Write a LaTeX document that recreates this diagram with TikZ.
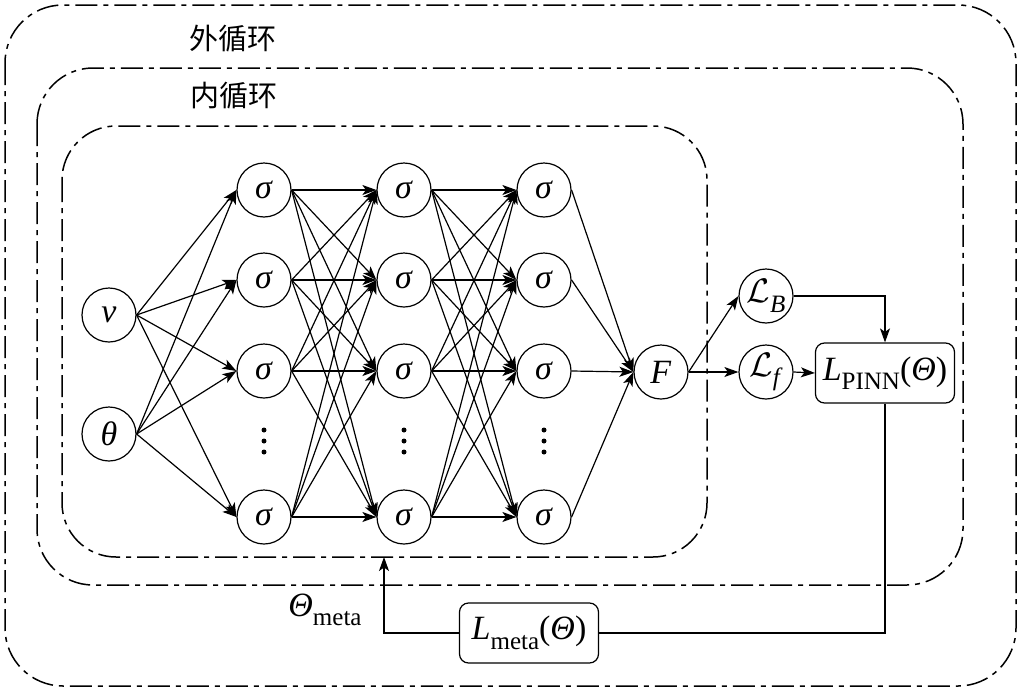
\RequirePackage{fix-cm}
\documentclass[tikz,border=0pt]{standalone}
\usepackage{fontspec}
\setmainfont{Liberation Serif}
\newfontfamily\cjk{Noto Sans CJK SC}
\usetikzlibrary{arrows.meta}
\newcommand\mysub[1]{\raisebox{-0.28em}{\fontsize{25}{25}\selectfont #1}}
\tikzset{
  neuron/.style={circle,draw,line width=1.2pt,minimum size=54pt,inner sep=0pt,font=\fontsize{34}{40}\selectfont},
  conn/.style={line width=1.2pt,-{Stealth[length=14pt,width=10pt,inset=3.5pt]}},
  loopbox/.style={line width=1.5pt,dash pattern=on 22pt off 6pt on 5pt off 6pt},
  lossbox/.style={draw,line width=1.2pt,rounded corners=9pt,minimum width=139pt,minimum height=60pt,inner sep=1pt,font=\fontsize{34}{40}\selectfont},
  title/.style={font=\cjk\fontsize{29}{32}\selectfont},
  lbl/.style={font=\fontsize{34}{40}\selectfont,inner sep=0pt},
  vdot/.style={fill,circle,inner sep=0pt,minimum size=5pt},
}
\begin{document}
\begin{tikzpicture}[x=1pt,y=-1pt]
\useasboundingbox (0,0) rectangle (1021,691);
% loops
\draw[loopbox,rounded corners=58pt] (5,5) rectangle (1016,686);
\draw[loopbox,rounded corners=56pt] (37,68) rectangle (963,585);
\draw[loopbox,rounded corners=54pt] (62,126) rectangle (707,557);
\node[title] (outer) at (233,39) {外循环};
\node[title] (inner) at (234,96) {内循环};
% inputs
\node[neuron] (v) at (109,315) {\textit{ν}};
\node[neuron] (t) at (109,434) {\textit{θ}};
% layers
\foreach \c/\x in {a/264,b/404,c/544}{
  \node[neuron] (\c1) at (\x,190) {\textit{σ}};
  \node[neuron] (\c2) at (\x,280) {\textit{σ}};
  \node[neuron] (\c3) at (\x,371) {\textit{σ}};
  \node[neuron] (\c4) at (\x,517) {\textit{σ}};
  \node[vdot] (\c d1) at (\x,430) {};
  \node[vdot] (\c d2) at (\x,441) {};
  \node[vdot] (\c d3) at (\x,452) {};
}
\node[neuron] (F) at (661,372) {\textit{F}};
\node[neuron] (LB) at (766,296) {$\mathcal{L}$\mysub{\textit{B}}};
\node[neuron] (Lf) at (766,372) {$\mathcal{L}$\mysub{\textit{f}}};
\node[lossbox] (Lp) at (885,373) {\textit{L}\mysub{PINN}(\textit{Θ})};
\node[lossbox] (Lm) at (529,633) {\textit{L}\mysub{meta}(\textit{Θ})};
\node[lbl] (tm) at (325,610) {\textit{Θ}\mysub{meta}};
\coordinate (mt) at (384,557);
% connections
\foreach \s in {v,t}{\foreach \k in {1,...,4}{\draw[conn] (\s.east) -- (a\k.west);}}
\foreach \i in {1,...,4}{\foreach \j in {1,...,4}{
  \draw[conn] (a\i.east) -- (b\j.west);
  \draw[conn] (b\i.east) -- (c\j.west);}}
\foreach \i in {1,...,4}{\draw[conn] (c\i.east) -- (F.west);}
\draw[conn] (F.east) -- (LB.west);
\draw[conn] (F.east) -- (Lf.west);
\draw[conn] (Lf.east) -- (Lp.west);
\draw[conn] (LB.east) -| (Lp.north);
\draw[line width=1.2pt] (Lp.south) |- (Lm.east);
\draw[conn] (Lm.west) -| (mt);
\end{tikzpicture}
\end{document}
